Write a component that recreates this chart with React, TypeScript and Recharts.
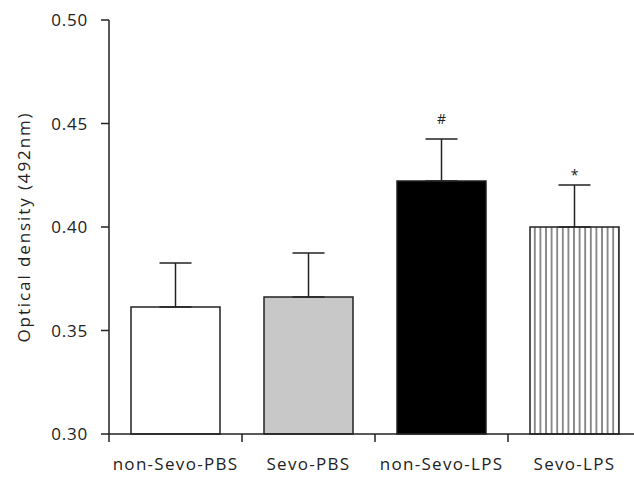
import { BarChart, Bar, XAxis, YAxis, Cell, ErrorBar, ReferenceDot } from 'recharts';

const groups = ['non-Sevo-PBS', 'Sevo-PBS', 'non-Sevo-LPS', 'Sevo-LPS'];
const positions = [0.5, 1.5, 2.5, 3.5];
const means = [0.3614, 0.3662, 0.4222, 0.4];
const sem = [0.0212, 0.0212, 0.0203, 0.0203];
const marks = ['', '', '#', '*'];
const fills = ['#ffffff', '#c8c8c8', '#000000', 'url(#stripes)'];
const yTicks = [0.3, 0.35, 0.4, 0.45, 0.5];
const xTicks = [0, 0.5, 1, 1.5, 2, 2.5, 3, 3.5, 4];

const data = groups.map((g, i) => ({
  name: g,
  pos: positions[i],
  od: means[i],
  err: [0, sem[i]],
}));

const ink = '#222';
const font = '"Open Sans", sans-serif';

function GroupTick(props: any) {
  const { x, y, payload } = props;
  const v = payload.value as number;
  if (Number.isInteger(v)) {
    return <line x1={x} y1={y} x2={x} y2={y + 8} stroke={ink} strokeWidth={1.5} />;
  }
  return (
    <text x={x} y={y + 36} textAnchor="middle" fill={ink} fontSize={17} fontFamily={font} letterSpacing={1.3}>
      {groups[Math.floor(v)]}
    </text>
  );
}

export default function App() {
  return (
    <div style={{ position: 'absolute', left: 0, top: 0, width: 634, height: 479, overflow: 'hidden', background: '#fff' }}>
      <BarChart width={660} height={479} data={data} margin={{ top: 20, right: 19, left: 0, bottom: 0 }}>
        <defs>
          <pattern id="stripes" width={5.6} height={10} patternUnits="userSpaceOnUse">
            <rect width={5.6} height={10} fill="#ffffff" />
            <line x1={2.8} y1={0} x2={2.8} y2={10} stroke="#444" strokeWidth={1.2} />
          </pattern>
        </defs>
        <XAxis
          dataKey="pos"
          type="number"
          domain={[0, 4]}
          ticks={xTicks}
          interval={0}
          tick={<GroupTick />}
          tickLine={false}
          tickSize={0}
          tickMargin={0}
          height={45}
          axisLine={{ stroke: ink, strokeWidth: 1.5 }}
        />
        <YAxis
          domain={[0.3, 0.5]}
          ticks={yTicks}
          width={109}
          tickFormatter={(v: number) => v.toFixed(2)}
          tick={{ fill: ink, fontSize: 17, fontFamily: font, letterSpacing: 0.8 }}
          tickSize={8}
          tickMargin={13}
          tickLine={{ stroke: ink, strokeWidth: 1.5 }}
          axisLine={{ stroke: ink, strokeWidth: 1.5 }}
          label={{
            value: 'Optical density (492nm)',
            angle: -90,
            position: 'insideLeft',
            offset: 24,
            fill: ink,
            fontSize: 17,
            fontFamily: font,
            letterSpacing: 1.9,
            style: { textAnchor: 'middle' },
          }}
        />
        <Bar dataKey="od" barSize={89} stroke={ink} strokeWidth={1.5} isAnimationActive={false}>
          {data.map((d, i) => (
            <Cell key={d.name} fill={fills[i]} />
          ))}
          <ErrorBar dataKey="err" direction="y" width={16} stroke={ink} strokeWidth={1.5} isAnimationActive={false} />
        </Bar>
        {marks.map((m, i) =>
          m ? (
            <ReferenceDot
              key={m}
              x={positions[i]}
              y={means[i] + sem[i]}
              r={0}
              label={{ value: m, position: 'top', offset: m === '#' ? 15 : 5, fill: ink, fontSize: 14, fontFamily: font }}
            />
          ) : null,
        )}
      </BarChart>
    </div>
  );
}
